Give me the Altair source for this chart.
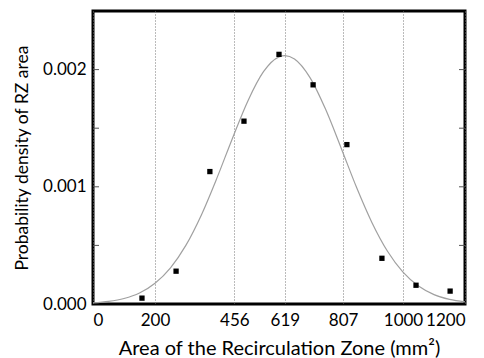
import altair as alt
import pandas as pd

# Measured points (squares)
pt_x = [158, 268, 377, 487, 600, 710, 819, 932, 1042, 1152]
pt_y = [0.00005, 0.00028, 0.00113, 0.00156, 0.00213, 0.00187, 0.00136, 0.00039, 0.00016, 0.00011]

# Fitted curve
curve_x = [0, 50, 100, 150, 200, 250, 300, 350, 400, 450, 500, 550, 600, 619,
           650, 700, 750, 800, 850, 900, 950, 1000, 1050, 1100, 1150, 1200]
curve_y = [0.000009, 0.000022, 0.000047, 0.000094, 0.000177, 0.000309, 0.000502,
           0.000762, 0.001076, 0.001415, 0.001735, 0.001982, 0.002109, 0.00212,
           0.002091, 0.001932, 0.001663, 0.001334, 0.000996, 0.000694, 0.000450,
           0.000272, 0.000153, 0.000080, 0.000039, 0.000018]

x_ticks = [0, 200, 456, 619, 807, 1000, 1200]
y_ticks = [0, 0.0005, 0.001, 0.0015, 0.002, 0.0025]

W, H = 372, 293
FONT = "Lato"

pts = pd.DataFrame({"x": pt_x, "y": pt_y})
crv = pd.DataFrame({"x": curve_x, "y": curve_y})
tks = pd.DataFrame({"y": y_ticks[1:-1]})

xscale = alt.Scale(domain=[0, 1200], nice=False, zero=False)
yscale = alt.Scale(domain=[0, 0.0025], nice=False)

xaxis = alt.Axis(values=x_ticks, format="d", grid=True, gridDash=[1, 2], gridColor="#777",
                 gridWidth=1, ticks=False, domain=False, labelFontSize=17,
                 labelPadding=8, labelColor="black", labelFont=FONT,
                 title="Area of the Recirculation Zone (mm²)", titleFont=FONT,
                 titleFontSize=20, titleFontWeight="normal", titleColor="black",
                 titleX=W / 2, titleY=44, titleBaseline="middle", titleAnchor="middle")
yaxis = alt.Axis(values=y_ticks, grid=False, ticks=False, domain=False,
                 labelExpr="round(datum.value*10000) % 10 == 0 ? format(datum.value, '.3f') : ''",
                 labelFontSize=17, labelPadding=7, labelColor="black", labelFont=FONT,
                 title="Probability density of RZ area", titleFont=FONT,
                 titleFontSize=17.5, titleFontWeight="normal", titleColor="black",
                 titleAngle=-90, titleX=-71, titleY=H / 2, titleBaseline="middle",
                 titleAlign="center")

curve = alt.Chart(crv).mark_line(color="#a0a0a0", strokeWidth=1.2,
                                 interpolate="monotone").encode(
    x=alt.X("x:Q", scale=xscale, axis=xaxis),
    y=alt.Y("y:Q", scale=yscale, axis=yaxis),
)
points = alt.Chart(pts).mark_square(color="black", size=28, opacity=1).encode(
    x=alt.X("x:Q", scale=xscale),
    y=alt.Y("y:Q", scale=yscale),
)
lt = alt.Chart(tks).mark_rule(color="#555", strokeWidth=1).encode(
    y=alt.Y("y:Q", scale=yscale), x=alt.value(0), x2=alt.value(6))
rt = alt.Chart(tks).mark_rule(color="#555", strokeWidth=1).encode(
    y=alt.Y("y:Q", scale=yscale), x=alt.value(W - 6), x2=alt.value(W))

chart = alt.layer(curve, lt, rt, points).properties(
    width=W, height=H,
    autosize=alt.AutoSizeParams(type="none"),
    padding={"left": 93, "top": 11, "right": 19, "bottom": 54},
    background="white",
).configure_view(stroke="black", strokeWidth=3)

chart.save("out.html", embed_options={"renderer": "svg", "actions": False})
